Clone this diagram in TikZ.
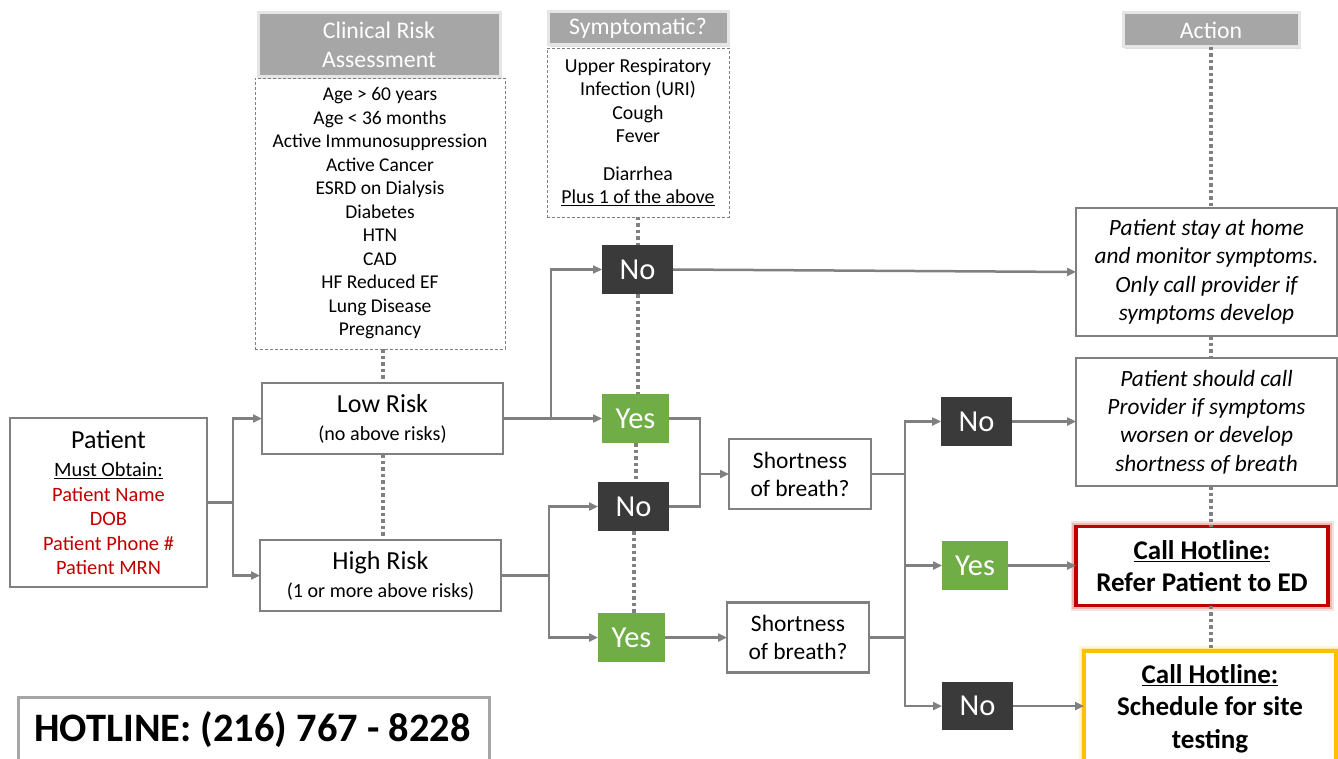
\documentclass[tikz,border=0pt]{standalone}
\usepackage{fontspec}
\setmainfont{Carlito}
\usetikzlibrary{arrows.meta,shadows}
\definecolor{lineg}{HTML}{808080}
\definecolor{hdrg}{HTML}{A6A6A6}
\definecolor{darkb}{HTML}{3A3A3A}
\definecolor{greenb}{HTML}{70AD47}
\definecolor{redt}{HTML}{C00000}
\definecolor{yellowb}{HTML}{FFC000}
\begin{document}
\begin{tikzpicture}[x=1pt,y=-1pt,
  every node/.style={inner sep=0pt, outer sep=0pt},
  box/.style={draw=lineg, line width=2.5pt, fill=white, align=center},
  hdr/.style={fill=hdrg, draw=black!10, line width=3pt, text=white, align=center,
    font=\fontsize{23.8}{29}\selectfont, drop shadow={shadow xshift=1.5pt, shadow yshift=-2pt, opacity=0.25}},
  dbox/.style={draw=lineg, line width=0.9pt, dash pattern=on 3pt off 2pt, align=center},
  dk/.style={fill=darkb, text=white, font=\fontsize{30.5}{33}\selectfont},
  gr/.style={fill=greenb, text=white, font=\fontsize{30.5}{33}\selectfont},
  conn/.style={draw=lineg, line width=2.5pt, -{Triangle[length=9pt,width=8pt]}},
  link/.style={draw=lineg, line width=2.5pt},
  dotl/.style={draw=lineg, line width=4pt, dash pattern=on 3.5pt off 3pt},
]
\useasboundingbox (0,0) rectangle (1338,759);
\fill[white] (0,0) rectangle (1338,759);

% headers
\node[hdr, minimum width=242pt, minimum height=64pt] (hdr1) at (379,45) {Clinical Risk\\Assessment};
\node[hdr, minimum width=180pt, minimum height=33pt] (hdr2) at (638,28.5) {Symptomatic?};
\node[hdr, minimum width=176pt, minimum height=34pt] (hdr3) at (1211,30) {Action};

% dashed lists
\node[dbox, minimum width=250pt, minimum height=271pt, font=\fontsize{19.5}{23.5}\selectfont] (d1) at (380,213.5)
 {Age > 60 years\\Age < 36 months\\Active Immunosuppression\\Active Cancer\\ESRD on Dialysis\\Diabetes\\HTN\\CAD\\HF Reduced EF\\Lung Disease\\Pregnancy};
\node[dbox, minimum width=182pt, minimum height=169pt, font=\fontsize{19.8}{23.3}\selectfont] (d2) at (638,132.5)
 {Upper Respiratory\\Infection (URI)\\Cough\\Fever\\[15pt]Diarrhea\\\underline{Plus 1 of the above}};

% main boxes
\node[box, minimum width=197pt, minimum height=169pt, font=\fontsize{20.4}{24.5}\selectfont] (patient) at (108.5,502.5)
 {{\fontsize{26}{29}\selectfont Patient}\\[4pt]\underline{Must Obtain:}\\
  \textcolor{redt}{Patient Name}\\\textcolor{redt}{DOB}\\\textcolor{redt}{Patient Phone \#}\\\textcolor{redt}{Patient MRN}};
\node[box, minimum width=241pt, minimum height=71pt, font=\fontsize{20.1}{24}\selectfont] (low) at (382.5,418.5)
 {{\fontsize{26}{29}\selectfont Low Risk}\\[4pt](no above risks)};
\node[box, minimum width=241pt, minimum height=71pt, font=\fontsize{20.1}{24}\selectfont] (high) at (380.5,575.5)
 {{\fontsize{26}{29}\selectfont High Risk}\\[4pt](1 or more above risks)};

\node[dk, minimum width=71pt, minimum height=49pt] (no1) at (637.5,269.5) {No};
\node[gr, minimum width=67pt, minimum height=49pt] (yes1) at (635.5,418.5) {Yes};
\node[dk, minimum width=71pt, minimum height=49pt] (no2) at (633.5,506.5) {No};
\node[gr, minimum width=67pt, minimum height=49pt] (yes2) at (631.5,637.5) {Yes};

\node[box, minimum width=142pt, minimum height=70pt, font=\fontsize{23.5}{28}\selectfont] (sob1) at (800,474) {Shortness\\of breath?};
\node[box, minimum width=142pt, minimum height=70pt, font=\fontsize{23.5}{28}\selectfont] (sob2) at (798,637.5) {Shortness\\of breath?};

\node[dk, minimum width=71pt, minimum height=49pt] (no3) at (976.5,421.5) {No};
\node[gr, minimum width=66pt, minimum height=49pt] (yes3) at (975,565.5) {Yes};
\node[dk, minimum width=71pt, minimum height=48pt] (no4) at (977.5,706) {No};

\node[box, minimum width=261pt, minimum height=128pt, font=\fontsize{23.3}{28.5}\selectfont\itshape] (act1) at (1206.5,272)
 {Patient stay at home\\and monitor symptoms.\\Only call provider if\\symptoms develop};
\node[box, minimum width=261pt, minimum height=128pt, font=\fontsize{23.3}{28.2}\selectfont\itshape] (act2) at (1206.5,422)
 {Patient should call\\Provider if symptoms\\worsen or develop\\shortness of breath};
\node[box, draw=redt, line width=3.5pt, preaction={draw=redt!12, line width=11pt}, preaction={draw=redt!28, line width=7.5pt},
  minimum width=252pt, minimum height=79pt, font=\fontsize{27}{32}\selectfont\bfseries] (red) at (1202,566)
 {\underline{Call Hotline:}\\Refer Patient to ED};
\node[box, draw=yellowb, line width=4pt, preaction={draw=yellowb!15, line width=10pt}, preaction={draw=yellowb!35, line width=7pt},
  minimum width=252pt, minimum height=116pt] (yel) at (1210,709) {};
\node[align=center, font=\fontsize{27}{32.5}\selectfont\bfseries] (yeltxt) at (1210,708.5)
 {\underline{Call Hotline:}\\Schedule for site\\testing};

\node[draw=hdrg, line width=3pt, fill=white, minimum width=471pt, minimum height=72pt] (hot) at (253.5,733) {};
\node[font=\fontsize{40.4}{44}\selectfont\bfseries] (hottxt) at (252.5,729.5) {HOTLINE: (216) 767 - 8228};

% dotted links
\draw[dotl] (low.north |- d1.south) -- (low.north);
\draw[dotl] (low.south) -- (low.south |- high.north);
\draw[dotl] (no1.north |- d2.south) -- (no1.north);
\draw[dotl] (no1.south) -- (no1.south |- yes1.north);
\draw[dotl] (yes1.south) -- (yes1.south |- no2.north);
\draw[dotl] (no2.south) -- (no2.south |- yes2.north);
\draw[dotl] (hdr3.south) -- (hdr3.south |- act1.north);
\draw[dotl] (hdr3.south |- act1.south) -- (hdr3.south |- act2.north);
\draw[dotl] (hdr3.south |- act2.south) -- (hdr3.south |- red.north);
\draw[dotl] (hdr3.south |- red.south) -- (hdr3.south |- yel.north);

% connectors
\coordinate (pj) at (233,502.5);
\draw[link] (patient.east) -- (pj);
\draw[conn] (pj) |- (low.west);
\draw[conn] (pj) |- (high.west);

\coordinate (lj) at (551,418.5);
\draw[link] (low.east) -- (lj);
\draw[conn] (lj) |- (no1.west);
\draw[conn] (lj) -- (yes1.west);

\coordinate (hj) at (549,575.5);
\draw[link] (high.east) -- (hj);
\draw[conn] (hj) |- (no2.west);
\draw[conn] (hj) |- (yes2.west);

\coordinate (sj) at (700,474);
\draw[link] (yes1.east) -| (sj);
\draw[link] (no2.east) -| (sj);
\draw[conn] (sj) -- (sob1.west);
\draw[conn] (yes2.east) -- (sob2.west);

\coordinate (s1j) at (905,474);
\coordinate (s2j) at (905,637.5);
\draw[link] (sob1.east) -- (s1j);
\draw[link] (sob2.east) -- (s2j);
\draw[link] (s1j) -- (s2j);
\draw[conn] (s1j) |- (no3.west);
\draw[conn] (s1j) |- (yes3.west);
\draw[conn] (s2j) |- (no4.west);

\draw[conn] (no1.east) -- (act1.west);
\draw[conn] (no3.east) -- (no3.east -| act2.west);
\draw[conn] (yes3.east) -- (yes3.east -| red.west);
\draw[conn] (no4.east) -- (no4.east -| yel.west);
\end{tikzpicture}
\end{document}
